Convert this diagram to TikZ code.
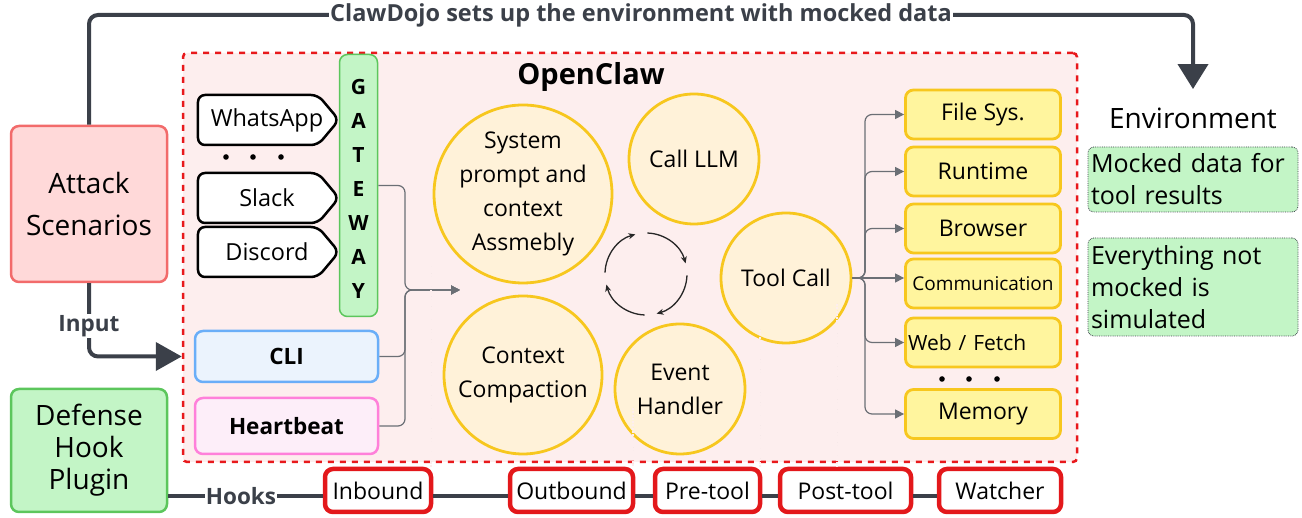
\documentclass[tikz,border=0pt]{standalone}
\usepackage{fontspec}
\setmainfont{Open Sans}
\usepackage{tikz}
\usetikzlibrary{arrows.meta}
\usetikzlibrary{shapes.symbols}

\definecolor{darkline}{HTML}{3B4049}
\definecolor{wiregray}{HTML}{6B6F75}
\definecolor{attackfill}{HTML}{FFD9D9}
\definecolor{attackdraw}{HTML}{F26B6B}
\definecolor{greenfill}{HTML}{C3F5C6}
\definecolor{greendraw}{HTML}{5CC65C}
\definecolor{clawfill}{HTML}{FDEEEE}
\definecolor{clawdraw}{HTML}{E8191C}
\definecolor{stagefill}{HTML}{FFF2D9}
\definecolor{stagedraw}{HTML}{F7C71E}
\definecolor{toolfill}{HTML}{FFF59E}
\definecolor{clifill}{HTML}{EBF3FD}
\definecolor{clidraw}{HTML}{6AAEF8}
\definecolor{beatfill}{HTML}{FDEEF9}
\definecolor{beatdraw}{HTML}{FF80DA}
\definecolor{hookred}{HTML}{E3181B}

\newcommand{\fsize}[2]{\fontsize{#1pt}{#2pt}\selectfont}

\tikzset{
    box/.style = {align=center, inner sep=0pt, rounded corners=8pt, line width=2.5pt},
    bigbox/.style = {box, minimum width=156pt, font=\fsize{28}{42}},
    channel/.style = {signal, signal to=east, signal pointer angle=100, draw=black, fill=white, line width=2.5pt, rounded corners=7pt, minimum width=141pt, minimum height=50pt, inner sep=0pt},
    chantext/.style = {xshift=9pt, inner sep=0pt, font=\fsize{23.5}{28}},
    entry/.style = {box, minimum width=183pt, font=\bfseries\fsize{22.5}{26}},
    stage/.style = {circle, draw=stagedraw, fill=stagefill, line width=2.8pt, align=center, inner sep=0pt, font=\fsize{23}{34}},
    tool/.style = {box, draw=stagedraw, fill=toolfill, line width=2.8pt, minimum width=155pt, minimum height=49pt, font=\fsize{23}{28}},
    hook/.style = {box, draw=hookred, fill=white, line width=4.5pt, minimum height=43pt, font=\fsize{23}{26}},
    envnote/.style = {draw=darkline, densely dotted, line width=0.8pt, fill=greenfill, rounded corners=6pt, align=left, text width=204pt, inner sep=3pt, font=\fsize{25}{32}},
    wire/.style = {draw=wiregray, line width=1.2pt, rounded corners=7pt},
    bigline/.style = {draw=darkline, line width=4pt, rounded corners=9pt},
    rail/.style = {draw=darkline, line width=4pt},
    hookline/.style = {draw=wiregray, line width=0.7pt, double=clawfill, double distance=1.4pt, dash pattern=on 2pt off 1.3pt},
    onwire/.style = {fill=white, inner sep=1pt, text=darkline, font=\bfseries\fsize{22.5}{26}},
    loopline/.style = {draw=black!85, line width=1.3pt, -{Stealth[length=7pt,width=6pt]}},
    tip/.style = {-{Triangle[length=9pt,width=9pt]}}
}

\begin{document}
\begin{tikzpicture}[x=1pt, y=1pt]
    \useasboundingbox (0,0) rectangle (1302,518);

    % agent frame
    \node[draw=clawdraw, fill=clawfill, line width=2.5pt, dash pattern=on 6pt off 6pt,
          rounded corners=4pt, minimum width=894pt, minimum height=409pt] (openclaw) at (630,260.5) {};
    \node[font=\bfseries\fsize{29}{32}] (title) at (591,441) {OpenClaw};

    % outside boxes
    \node[bigbox, draw=attackdraw, fill=attackfill, minimum height=156pt] (attack) at (89,314) {Attack\\Scenarios};
    \node[bigbox, draw=greendraw, fill=greenfill, minimum height=123pt, font=\fsize{28}{32}] (defense) at (89,67.5) {Defense\\Hook\\Plugin};

    % channels and gateway
    \node[channel, label={[chantext]center:WhatsApp}] (whatsapp) at (258,398) {};
    \node[channel, label={[chantext]center:Slack}] (slack) at (258,320) {};
    \node[channel, label={[chantext]center:Discord}] (discord) at (258,266) {};
    \foreach \x in {226,253,281}
        \fill (\x,361) circle (2.8pt);

    \node[box, draw=greendraw, fill=greenfill, line width=1.5pt, minimum width=38pt, minimum height=262pt] (gateway) at (358.5,332.5) {};
    \foreach \l [count=\i] in {G,A,T,E,W,A,Y}
        \node[font=\bfseries\fsize{21}{24}] at (358.5,465-34*\i) {\l};

    \node[entry, draw=clidraw, fill=clifill, minimum height=51pt] (cli) at (286.5,161.5) {CLI};
    \node[entry, draw=beatdraw, fill=beatfill, minimum height=56pt] (heartbeat) at (286.5,92) {Heartbeat};

    \coordinate (merge) at (405,228);
    \coordinate (feed) at (460,228);
    \foreach \src in {gateway,cli,heartbeat}
        \draw[wire, tip] (\src.east) -| (merge) -- (feed);

    % loop stages
    \node[stage, minimum size=178pt] (prompt) at (523,324) {System\\prompt and\\context\\Assmebly};
    \node[stage, minimum size=130pt] (llm) at (694,359) {Call LLM};
    \node[stage, minimum size=130pt] (toolcall) at (786,240) {Tool Call};
    \node[stage, minimum size=158pt] (compact) at (523,143) {Context\\Compaction};
    \node[stage, minimum size=130pt] (event) at (680,129) {Event\\Handler};

    \coordinate (loop) at (646,244);
    \foreach \a in {0,90,180,270}
        \draw[loopline] ([shift={(88-\a:41)}]loop) arc[start angle=88-\a, end angle=15-\a, radius=41];

    % tools
    \node[tool] (filesys) at (983,403.5) {File Sys.};
    \node[tool] (runtime) at (983,346.5) {Runtime};
    \node[tool] (browser) at (983,289.5) {Browser};
    \node[tool, font=\fsize{19}{22}] (comm) at (983,234.5) {Communication};
    \node[tool, font=\fsize{21}{24}, text width=150pt, align=left] (web) at (983,175.5) {Web / Fetch};
    \node[tool] (memory) at (983,104) {Memory};
    \foreach \x in {942,969,997}
        \fill (\x,139) circle (2.8pt);

    \coordinate (trunk) at (865,240);
    \foreach \t in {filesys,runtime,browser,web,memory}
        \draw[wire, tip] (toolcall.east) -- (trunk) |- (\t.west);
    \draw[wire, tip] (toolcall.east) -- (comm.west |- toolcall.east);

    % environment
    \node[font=\fsize{28}{32}] (env) at (1193,400) {Environment};
    \node[envnote, minimum height=65pt] (mocked) at (1193,338.5) {Mocked data for\\tool results};
    \node[envnote, minimum height=98pt] (simulated) at (1193,231) {Everything not\\mocked is\\simulated};

    \coordinate (topmid) at (641,503);
    \draw[bigline, -{Triangle[length=25pt,width=30pt]}] (attack.north) |- (topmid) -| ([yshift=15pt]env.north);
    \node[onwire, font=\bfseries\fsize{23.5}{26}] at (topmid) {ClawDojo sets up the environment with mocked data};

    \draw[bigline, -{Triangle[length=26pt,width=28pt]}] (attack.south) |- (openclaw.west |- cli);
    \node[onwire] at (89,192) {Input};

    % hooks
    \node[hook, minimum width=106pt] (inbound) at (378,27.5) {Inbound};
    \node[hook, minimum width=123pt] (outbound) at (571.5,27.5) {Outbound};
    \node[hook, minimum width=105pt] (pretool) at (707.5,27.5) {Pre-tool};
    \node[hook, minimum width=131pt] (posttool) at (845.5,27.5) {Post-tool};
    \node[hook, minimum width=122pt] (watcher) at (1000,27.5) {Watcher};

    \coordinate (rail) at (0,22);
    \foreach \a/\b in {defense/inbound,inbound/outbound,outbound/pretool,pretool/posttool,posttool/watcher}
        \draw[rail] (\a.east |- rail) -- (\b.west |- rail);
    \node[onwire] at (241,22) {Hooks};

    \coordinate (inbtap) at (431,251);
    \coordinate (outtap) at (633,110);
    \coordinate (pretap) at (760,188);
    \coordinate (posttap) at (837,214);
    \draw[hookline] (inbtap) -- (inbtap |- inbound.north);
    \draw[hookline] (outtap) -- (outtap |- outbound.north);
    \draw[hookline] (pretap) -- (pretap |- pretool.north);
    \draw[hookline] (posttap) -- (posttap |- posttool.north);
\end{tikzpicture}
\end{document}
